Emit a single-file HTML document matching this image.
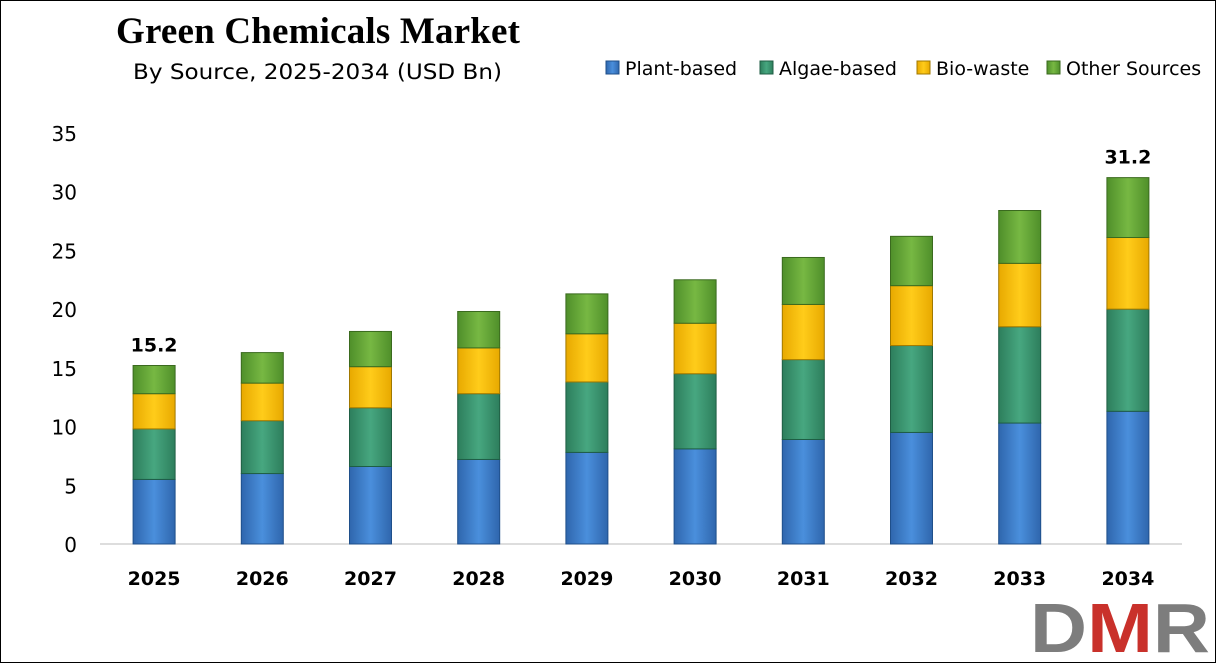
<!DOCTYPE html>
<html><head><meta charset="utf-8"><style>
body{margin:0;background:#fff;}
svg{display:block;font-family:"DejaVu Sans",sans-serif;}
</style></head><body>
<svg id="chart" width="1216" height="663">
<defs>
<linearGradient id="gb" x1="0" x2="1"><stop offset="0" stop-color="#2f66ad"/><stop offset="0.5" stop-color="#4a8fdc"/><stop offset="1" stop-color="#2f66ad"/></linearGradient>
<linearGradient id="gt" x1="0" x2="1"><stop offset="0" stop-color="#2d7e5c"/><stop offset="0.5" stop-color="#47a780"/><stop offset="1" stop-color="#2d7e5c"/></linearGradient>
<linearGradient id="gy" x1="0" x2="1"><stop offset="0" stop-color="#e8a900"/><stop offset="0.5" stop-color="#ffcc1a"/><stop offset="1" stop-color="#e8a900"/></linearGradient>
<linearGradient id="gg" x1="0" x2="1"><stop offset="0" stop-color="#4f8f2a"/><stop offset="0.5" stop-color="#77b843"/><stop offset="1" stop-color="#4f8f2a"/></linearGradient>
</defs>
<rect x="0.5" y="0.5" width="1215" height="662" fill="#fff" stroke="#000"/>
<text x="116" y="43" font-family="Liberation Serif,serif" font-weight="bold" font-size="37" textLength="404">Green Chemicals Market</text>
<text x="133" y="79" font-size="21" textLength="369" lengthAdjust="spacingAndGlyphs">By Source, 2025-2034 (USD Bn)</text>
<g id="legend"></g>
<g id="axes"></g>
<g id="bars"></g>
<g>
<text x="1030" y="652" font-family="Liberation Sans,sans-serif" font-size="70" font-weight="bold" fill="#7d7d7d" textLength="180" lengthAdjust="spacingAndGlyphs">D<tspan fill="#c9312b">M</tspan>R</text>
</g>
</svg>
<script>
const years=['2025','2026','2027','2028','2029','2030','2031','2032','2033','2034'];
const plant=[5.5,6.0,6.6,7.2,7.8,8.1,8.9,9.5,10.3,11.3];
const algae=[4.3,4.5,5.0,5.6,6.0,6.4,6.8,7.4,8.2,8.7];
const biowaste=[3.0,3.2,3.5,3.9,4.1,4.3,4.7,5.1,5.4,6.1];
const other=[2.4,2.6,3.0,3.1,3.4,3.7,4.0,4.2,4.5,5.1];
const yTicks=[0,5,10,15,20,25,30,35];
const seriesNames=['Plant-based','Algae-based','Bio-waste','Other Sources'];
const NS='http://www.w3.org/2000/svg';
const y0=544,yTop=133,yMax=35,xL=100,xR=1182;
const y=v=>y0-(y0-yTop)*v/yMax;
const band=(xR-xL)/years.length;
const xc=i=>xL+band*(i+0.5);
function mk(t,a,p){const e=document.createElementNS(NS,t);for(const k in a)e.setAttribute(k,a[k]);p.appendChild(e);return e;}
const axes=document.getElementById('axes'),bars=document.getElementById('bars'),leg=document.getElementById('legend');
yTicks.forEach(t=>{const e=mk('text',{x:77,y:y(t)+8,'text-anchor':'end','font-size':20},axes);e.textContent=t;

});
const ax=mk('line',{x1:xL,x2:xR,y1:y0,y2:y0,stroke:'#bbb','stroke-width':1},axes);


const series=[plant,algae,biowaste,other],fills=['url(#gb)','url(#gt)','url(#gy)','url(#gg)'],strokes=['#1f4f8a','#1f5e44','#a07800','#3a6a1e'],names=['bar-plant','bar-algae','bar-biowaste','bar-other'];
years.forEach((yr,i)=>{let cum=0;const w=42,x=xc(i)-w/2;
series.forEach((s,k)=>{const b=cum,t=cum+s[i];cum=t;
const r=mk('rect',{x:x,y:y(t),width:w,height:y(b)-y(t),fill:fills[k],stroke:strokes[k],'stroke-width':1},bars);

});
const l=mk('text',{x:xc(i),y:585,'text-anchor':'middle','font-size':19,'font-weight':'bold'},axes);l.textContent=yr;


if(i===0||i===years.length-1){const v=mk('text',{x:xc(i),y:y(cum)-14,'text-anchor':'middle','font-size':19,'font-weight':'bold'},bars);v.textContent=cum.toFixed(1);

}
});
const lx=[606,760,917,1047];
seriesNames.forEach((n,k)=>{const g=mk('g',{},leg);


mk('rect',{x:lx[k],y:61,width:13,height:13,fill:fills[k],stroke:strokes[k]},g);
const t=mk('text',{x:lx[k]+19,y:75,'font-size':19},g);t.textContent=n;});
</script>
</body></html>
